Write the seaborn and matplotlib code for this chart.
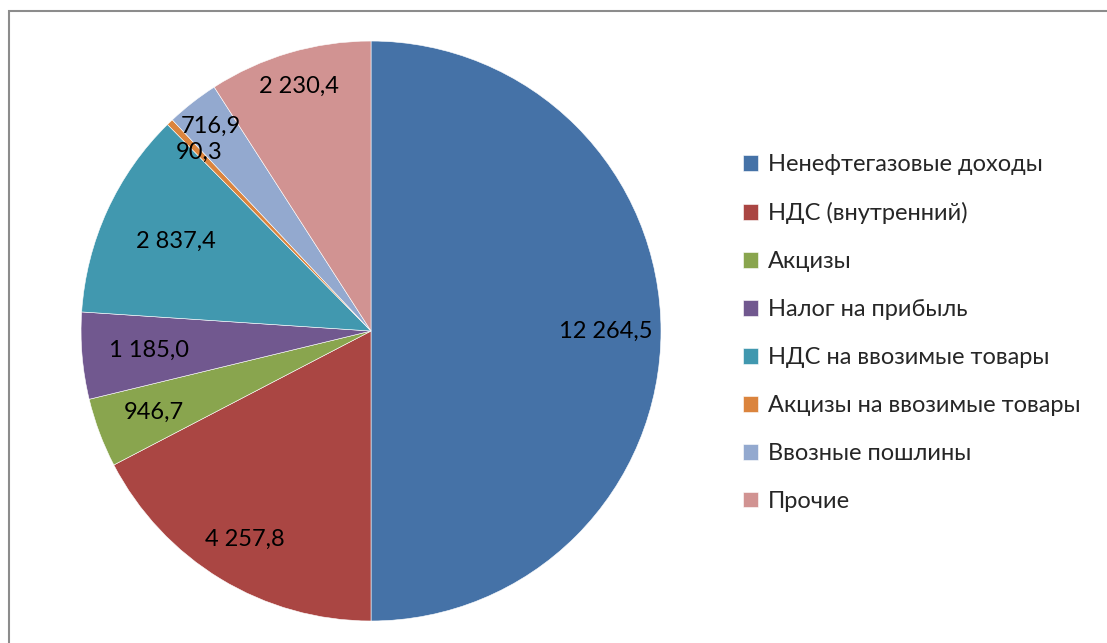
import matplotlib
matplotlib.use("Agg")
import matplotlib.pyplot as plt
import matplotlib.patches as mpatches
import seaborn as sns

# data
categories = ['Ненефтегазовые доходы', 'НДС (внутренний)', 'Акцизы', 'Налог на прибыль',
              'НДС на ввозимые товары', 'Акцизы на ввозимые товары', 'Ввозные пошлины', 'Прочие']
values = [12264.5, 4257.8, 946.7, 1185.0, 2837.4, 90.3, 716.9, 2230.4]
value_labels = ['12 264,5', '4 257,8', '946,7', '1 185,0', '2 837,4', '90,3', '716,9', '2 230,4']
# how far out each data label sits (fraction of radius), as in the picture
label_dist = [0.81, 0.84, 0.80, 0.77, 0.74, 0.855, 0.895, 0.88]

sns.set_theme(style='white')
plt.rcParams['font.family'] = ['Lato', 'DejaVu Sans']

colors = sns.color_palette(['#4572A7', '#AA4643', '#89A54E', '#71588F',
                            '#4198AF', '#DB843D', '#93A9CF', '#D19392'])

fig = plt.figure(figsize=(11.07, 6.43), dpi=100)
ax = fig.add_axes([0.0732, 0.0342, 0.5239, 0.902])

wedges, texts = ax.pie(values, colors=colors, startangle=90, counterclock=False,
                       labels=value_labels, labeldistance=1.0,
                       wedgeprops=dict(edgecolor='white', linewidth=0.4),
                       textprops=dict(fontsize=17, color='black'))
for t, d in zip(texts, label_dist):
    x, y = t.get_position()
    t.set_position((x * d, y * d))
    t.set_ha('center')
    t.set_va('center')
ax.set_xlim(-1, 1)
ax.set_ylim(-1, 1)
ax.set_aspect('equal')

fig.legend(wedges, categories, loc='upper left', bbox_to_anchor=(0.652, 0.793),
           frameon=False, fontsize=17, handlelength=0.65, handleheight=0.65,
           handletextpad=0.4, labelspacing=1.14)

# chart area border (open to the right and bottom, as cropped)
border = mpatches.Rectangle((9 / 1107, -0.05), 1.2, 1 - 11 / 643 + 0.05,
                            transform=fig.transFigure, fill=False,
                            edgecolor='#8c8c8c', linewidth=1.5)
fig.patches.append(border)

fig.savefig('out.png', dpi=100)
